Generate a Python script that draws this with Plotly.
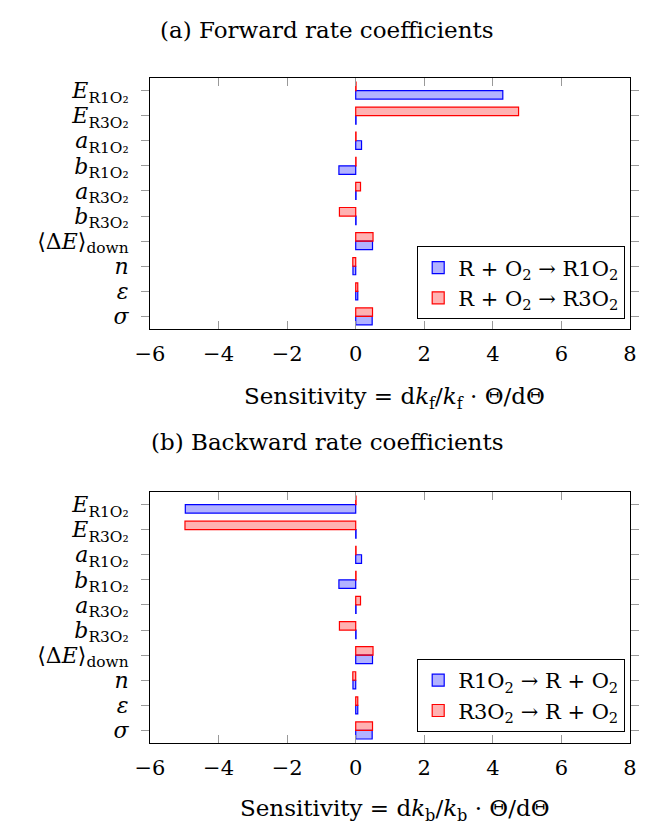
import plotly.graph_objects as go

params = [
    "<i>E</i><sub>R1O₂</sub>",
    "<i>E</i><sub>R3O₂</sub>",
    "<i>a</i><sub>R1O₂</sub>",
    "<i>b</i><sub>R1O₂</sub>",
    "<i>a</i><sub>R3O₂</sub>",
    "<i>b</i><sub>R3O₂</sub>",
    "⟨Δ<i>E</i>⟩<sub>down</sub>",
    "<i>n</i>",
    "<i>ε</i>",
    "<i>σ</i>",
]

fwd_r1 = [4.29, 0.01, 0.17, -0.49, 0.01, 0.01, 0.49, -0.08, 0.06, 0.48]
fwd_r3 = [0.01, 4.75, 0.01, 0.01, 0.14, -0.475, 0.505, -0.085, 0.06, 0.49]
bwd_r1 = [-4.97, 0.01, 0.17, -0.49, 0.01, 0.01, 0.49, -0.08, 0.06, 0.48]
bwd_r3 = [0.01, -4.98, 0.01, 0.01, 0.14, -0.475, 0.505, -0.085, 0.06, 0.49]

names_fwd = ["R + O<sub>2</sub> → R1O<sub>2</sub>", "R + O<sub>2</sub> → R3O<sub>2</sub>"]
names_bwd = ["R1O<sub>2</sub> → R + O<sub>2</sub>", "R3O<sub>2</sub> → R + O<sub>2</sub>"]
xticks = [-6, -4, -2, 0, 2, 4, 6, 8]

FONT = "DejaVu Serif"
BLUE_F, BLUE_L = "rgba(0,0,255,0.3)", "rgb(0,0,255)"
RED_F, RED_L = "rgba(255,0,0,0.3)", "rgb(255,0,0)"
BW = 0.34

fig = go.Figure()

def add_pair(vals_b, vals_r, names, xa, ya, leg):
    fig.add_trace(go.Bar(x=vals_b, y=params, orientation="h", name=names[0],
                         marker=dict(color=BLUE_F, line=dict(color=BLUE_L, width=1.2)),
                         width=BW, offset=0, xaxis=xa, yaxis=ya, legend=leg))
    fig.add_trace(go.Bar(x=vals_r, y=params, orientation="h", name=names[1],
                         marker=dict(color=RED_F, line=dict(color=RED_L, width=1.2)),
                         width=BW, offset=-BW, xaxis=xa, yaxis=ya, legend=leg))

add_pair(fwd_r1, fwd_r3, names_fwd, "x", "y", "legend")
add_pair(bwd_r1, bwd_r3, names_bwd, "x2", "y2", "legend2")

xax = dict(range=[-6, 8], tickvals=xticks, ticktext=[("−" + str(-v)) if v < 0 else str(v) for v in xticks],
           showline=True, linecolor="black", linewidth=1, mirror="ticks",
           ticks="inside", ticklen=8, tickcolor="#999", tickwidth=1, ticklabelstandoff=6,
           showgrid=False, zeroline=False, tickfont=dict(family=FONT, size=21, color="black"))
yax = dict(type="category", categoryarray=params, range=[9.5, -0.5],
           tickmode="array", tickvals=params, ticktext=params,
           showline=True, linecolor="black", linewidth=1, mirror="ticks",
           ticks="outside", ticklen=8, tickcolor="#999", tickwidth=1, ticklabelstandoff=8,
           showgrid=False, zeroline=False, tickfont=dict(family=FONT, size=22, color="black"))

legstyle = dict(bgcolor="white", bordercolor="black", borderwidth=1,
                font=dict(family=FONT, size=21, color="black"),
                xanchor="right", yanchor="bottom", x=0.99, tracegroupgap=0)

fig.update_layout(
    width=645, height=824,
    margin=dict(l=150, r=6, t=78, b=81),
    plot_bgcolor="white", paper_bgcolor="white",
    barmode="overlay",
    showlegend=True,
    xaxis=dict(**xax, domain=[0, 1], anchor="y"),
    yaxis=dict(**yax, domain=[0.6226, 1], anchor="x"),
    xaxis2=dict(**xax, domain=[0, 1], anchor="y2"),
    yaxis2=dict(**yax, domain=[0, 0.3774], anchor="x2"),
    legend=dict(**legstyle, y=0.637),
    legend2=dict(**legstyle, y=0.0165),
    font=dict(family=FONT, color="black"),
)

ann = [
    dict(text="(a) Forward rate coefficients", x=0.368, y=1.072),
    dict(text="Sensitivity = d<i>k</i><sub>f</sub>/<i>k</i><sub>f</sub> · Θ/dΘ", x=0.51, y=0.5188),
    dict(text="(b) Backward rate coefficients", x=0.368, y=0.4526),
    dict(text="Sensitivity = d<i>k</i><sub>b</sub>/<i>k</i><sub>b</sub> · Θ/dΘ", x=0.51, y=-0.1008),
]
for a in ann:
    fig.add_annotation(text=a["text"], x=a["x"], y=a["y"], xref="paper", yref="paper",
                       showarrow=False, xanchor="center", yanchor="middle",
                       font=dict(family=FONT, size=23, color="black"))

fig.write_html("out.html", config={"displayModeBar": False},
               post_script="document.body.style.margin='0';document.body.style.overflow='hidden';")
